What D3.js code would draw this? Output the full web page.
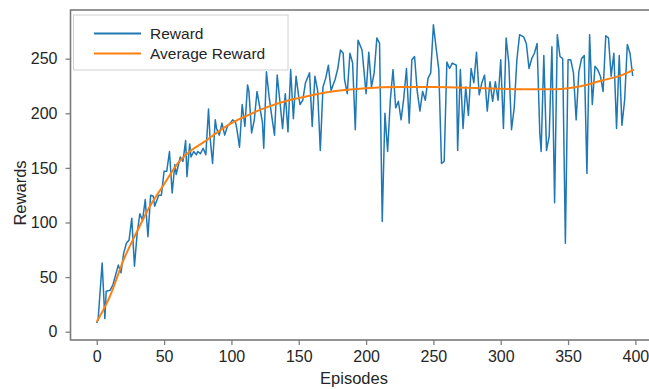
<!doctype html>
<html lang="en">
  <head>
    <meta charset="UTF-8" />
    <title>Rewards per episode</title>
    <script src="https://d3js.org/d3.v7.min.js"></script>
    <style>
      body {
        margin: 0;
        background: #fff;
      }
      svg {
        display: block;
        font-family: 'Liberation Sans', Arial, sans-serif;
      }
      .tick text {
        font-size: 16px;
        fill: #262626;
      }
      .tick line {
        stroke: #808080;
        stroke-width: 1.3;
      }
      .axis-label {
        font-size: 16.5px;
        fill: #262626;
      }
      .legend-text {
        font-size: 15.5px;
        fill: #262626;
      }
    </style>
  </head>
  <body>
    <svg id="chart"></svg>
    <script>
      const W = 649
      const H = 389

      // reward per episode
      const episodes = [
        0, 1, 4, 6, 7, 10, 12, 16, 18, 20, 22, 24, 26, 28, 30, 32, 34, 36, 38, 40, 42, 43, 46, 48, 50,
        52, 54, 56, 58, 59, 62, 64, 66, 67, 69, 70, 72, 74, 75, 77, 79, 81, 83, 84, 86, 88, 89, 91, 93,
        95, 97, 99, 101, 103, 104, 106, 108, 110, 112, 113, 115, 117, 119, 121, 123, 124, 126, 128, 130,
        132, 134, 136, 138, 140, 142, 144, 146, 148, 150, 151, 153, 155, 158, 160, 162, 164, 166, 168,
        170, 172, 174, 177, 179, 181, 183, 184, 186, 188, 190, 192, 194, 197, 200, 202, 204, 206, 208,
        210, 212, 214, 216, 218, 220, 222, 224, 226, 228, 230, 232, 234, 236, 238, 240, 242, 244, 246,
        248, 250, 252, 254, 256, 258, 260, 262, 264, 267, 268, 270, 272, 274, 276, 278, 280, 282, 284,
        286, 288, 290, 292, 294, 296, 298, 300, 302, 304, 306, 308, 310, 312, 314, 317, 319, 321, 323,
        325, 327, 329, 330, 332, 334, 336, 338, 340, 342, 344, 346, 348, 350, 352, 354, 356, 358, 360,
        362, 364, 366, 368, 370, 372, 374, 376, 378, 380, 382, 384, 386, 388, 390, 392, 394, 396, 398,
      ]
      const rewards = [
        8, 11, 63, 12, 37, 38, 43, 61, 54, 72, 81, 84, 104, 60, 90, 108, 102, 121, 87, 125, 124, 115,
        125, 125, 147, 147, 165, 127, 153, 144, 160, 156, 175, 142, 172, 160, 165, 162, 165, 163, 168,
        162, 204, 180, 154, 194, 186, 180, 191, 180, 188, 191, 194, 192, 186, 169, 208, 188, 226, 220,
        182, 194, 220, 206, 192, 168, 238, 215, 197, 180, 235, 211, 186, 218, 183, 240, 195, 234, 215,
        208, 212, 228, 237, 188, 234, 221, 166, 224, 232, 244, 221, 231, 241, 258, 255, 231, 218, 255,
        246, 185, 267, 258, 218, 256, 224, 237, 269, 264, 101, 200, 165, 212, 240, 205, 211, 194, 214,
        241, 191, 249, 252, 220, 202, 220, 212, 232, 237, 281, 260, 240, 154, 156, 247, 241, 246, 244,
        166, 240, 186, 224, 198, 241, 228, 256, 217, 228, 235, 202, 229, 211, 229, 212, 249, 186, 269,
        246, 185, 205, 249, 272, 270, 264, 241, 250, 255, 264, 182, 165, 253, 166, 179, 261, 118, 272,
        252, 250, 81, 249, 249, 237, 194, 238, 250, 253, 145, 272, 208, 243, 240, 234, 220, 271, 269,
        234, 255, 186, 253, 189, 212, 263, 255, 234,
      ]

      // smoothed average reward
      const avgEpisodes = [
        0, 10, 20, 30, 40, 50, 60, 70, 80, 90, 100, 110, 125, 140, 150, 165, 175, 200, 225, 250, 275,
        300, 325, 340, 350, 360, 375, 390, 399,
      ]
      const avgRewards = [
        9, 33, 66, 92, 116, 135, 154, 166, 174, 183, 191, 197, 205, 211, 214, 218, 220, 223, 224, 224,
        223.5, 222.5, 222, 222, 223, 225, 230, 235, 240,
      ]

      const xTicks = [0, 50, 100, 150, 200, 250, 300, 350, 400]
      const yTicks = [0, 50, 100, 150, 200, 250]
      const seriesNames = ['Reward', 'Average Reward']
      const colors = ['#1f77b4', '#ff7f0e']

      const plot = { left: 70.5, top: 10, right: 662, bottom: 340 }

      const svg = d3.select('#chart').attr('width', W).attr('height', H)

      const x = d3.scaleLinear().domain([-19.5, 420]).range([plot.left, 635.4 + 20 * 1.3465])
      const y = d3.scaleLinear().domain([-7.6, 294.6]).range([plot.bottom, plot.top])

      svg
        .append('defs')
        .append('clipPath')
        .attr('id', 'clip')
        .append('rect')
        .attr('x', plot.left)
        .attr('y', plot.top)
        .attr('width', plot.right - plot.left)
        .attr('height', plot.bottom - plot.top)

      // axes
      const xAxis = svg
        .append('g')
        .attr('transform', `translate(0,${plot.bottom})`)
        .call(d3.axisBottom(x).tickValues(xTicks).tickSize(5).tickPadding(6))
      xAxis.select('.domain').remove()

      const yAxis = svg
        .append('g')
        .attr('transform', `translate(${plot.left},0)`)
        .call(d3.axisLeft(y).tickValues(yTicks).tickSize(5).tickPadding(8))
      yAxis.select('.domain').remove()

      // frame
      svg
        .append('rect')
        .attr('x', plot.left)
        .attr('y', plot.top)
        .attr('width', plot.right - plot.left)
        .attr('height', plot.bottom - plot.top)
        .attr('fill', 'none')
        .attr('stroke', '#7a7a7a')
        .attr('stroke-width', 1.6)

      const lines = svg.append('g').attr('clip-path', 'url(#clip)')

      const rewardData = episodes.map((e, i) => ({ e, v: rewards[i] }))
      const avgData = avgEpisodes.map((e, i) => ({ e, v: avgRewards[i] }))

      lines
        .append('path')
        .datum(rewardData)
        .attr('fill', 'none')
        .attr('stroke', colors[0])
        .attr('stroke-width', 1.5)
        .attr('stroke-linejoin', 'round')
        .attr(
          'd',
          d3
            .line()
            .x((d) => x(d.e))
            .y((d) => y(d.v))
        )

      lines
        .append('path')
        .datum(avgData)
        .attr('fill', 'none')
        .attr('stroke', colors[1])
        .attr('stroke-width', 2)
        .attr(
          'd',
          d3
            .line()
            .curve(d3.curveMonotoneX)
            .x((d) => x(d.e))
            .y((d) => y(d.v))
        )

      // axis labels
      svg
        .append('text')
        .attr('class', 'axis-label')
        .attr('text-anchor', 'middle')
        .attr('x', 354)
        .attr('y', 384)
        .text('Episodes')

      svg
        .append('text')
        .attr('class', 'axis-label')
        .attr('text-anchor', 'middle')
        .attr('transform', 'translate(26,193) rotate(-90)')
        .text('Rewards')

      // legend
      const legend = svg.append('g')
      legend
        .append('rect')
        .attr('x', 73.5)
        .attr('y', 15)
        .attr('width', 214.5)
        .attr('height', 55)
        .attr('fill', '#fff')
        .attr('fill-opacity', 0.85)
        .attr('stroke', '#d0d0d0')
        .attr('stroke-width', 1)

      seriesNames.forEach((name, i) => {
        const ly = 33.5 + i * 20
        legend
          .append('line')
          .attr('x1', 94)
          .attr('x2', 141)
          .attr('y1', ly)
          .attr('y2', ly)
          .attr('stroke', colors[i])
          .attr('stroke-width', 2)
        legend
          .append('text')
          .attr('class', 'legend-text')
          .attr('x', 150)
          .attr('y', ly + 5.5)
          .text(name)
      })
    </script>
  </body>
</html>
